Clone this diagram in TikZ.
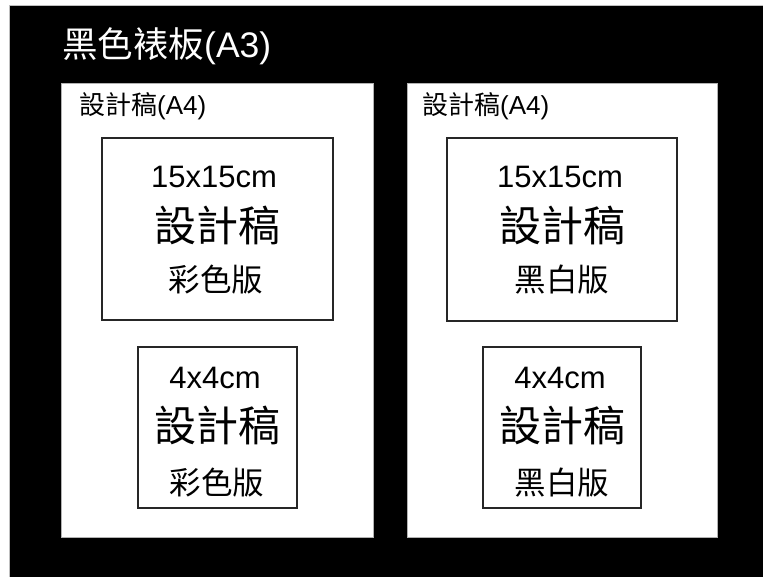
\documentclass[tikz,border=0pt]{standalone}
\usepackage{fontspec}
\setmainfont{Liberation Sans}
\newfontfamily\cjk{Noto Sans CJK TC}
\begin{document}
\begin{tikzpicture}[x=1pt,y=-1pt,
  board/.style={fill=black,draw=gray!50,line width=0.8pt},
  sheet/.style={fill=white,draw=gray!60,line width=0.8pt,anchor=north west,inner sep=0pt,outer sep=0pt},
  frame/.style={draw=black!85,line width=2pt,fill=white,anchor=north west,inner sep=0pt,outer sep=0pt},
  txt/.style={inner sep=0pt,text=black},
  ttl/.style={txt,text=white,anchor=west,font=\fontsize{35.5}{40}\selectfont},
  lbl/.style={txt,anchor=west,font=\fontsize{26}{30}\selectfont},
  dim/.style={txt,font=\fontsize{31}{36}\selectfont},
  big/.style={txt,font=\fontsize{42}{48}\selectfont\cjk},
  ver/.style={txt,font=\fontsize{31.5}{36}\selectfont\cjk}]
\useasboundingbox (0,0) rectangle (763,576);
\fill[white] (0,0) rectangle (763,576);
\draw[board] (9,5) rectangle (770,582);
\node[ttl] (title) at (62,46) {{\cjk 黑色裱板}(A3)};
% left sheet
\node[sheet,minimum width=312pt,minimum height=454pt] (sheetL) at (61,83) {};
\node[lbl] (labL) at (79,106) {{\cjk 設計稿}(A4)};
\node[frame,minimum width=231pt,minimum height=182pt] (bigL) at (102,138) {};
\node[dim] (dimBL) at (214,177) {15x15cm};
\node[big] (nameBL) at (217,225) {設計稿};
\node[ver] (verBL) at (216,280) {彩色版};
\node[frame,minimum width=159pt,minimum height=161pt] (smL) at (138,347) {};
\node[dim] (dimSL) at (215,378) {4x4cm};
\node[big] (nameSL) at (217,425) {設計稿};
\node[ver] (verSL) at (217,483) {彩色版};
% right sheet
\node[sheet,minimum width=310pt,minimum height=454pt] (sheetR) at (407,83) {};
\node[lbl] (labR) at (422,106) {{\cjk 設計稿}(A4)};
\node[frame,minimum width=230pt,minimum height=183pt] (bigR) at (447,138) {};
\node[dim] (dimBR) at (560,177) {15x15cm};
\node[big] (nameBR) at (562,225) {設計稿};
\node[ver] (verBR) at (562,280) {黑白版};
\node[frame,minimum width=158pt,minimum height=161pt] (smR) at (483,347) {};
\node[dim] (dimSR) at (560,378) {4x4cm};
\node[big] (nameSR) at (562,425) {設計稿};
\node[ver] (verSR) at (562,483) {黑白版};
\end{tikzpicture}
\end{document}
